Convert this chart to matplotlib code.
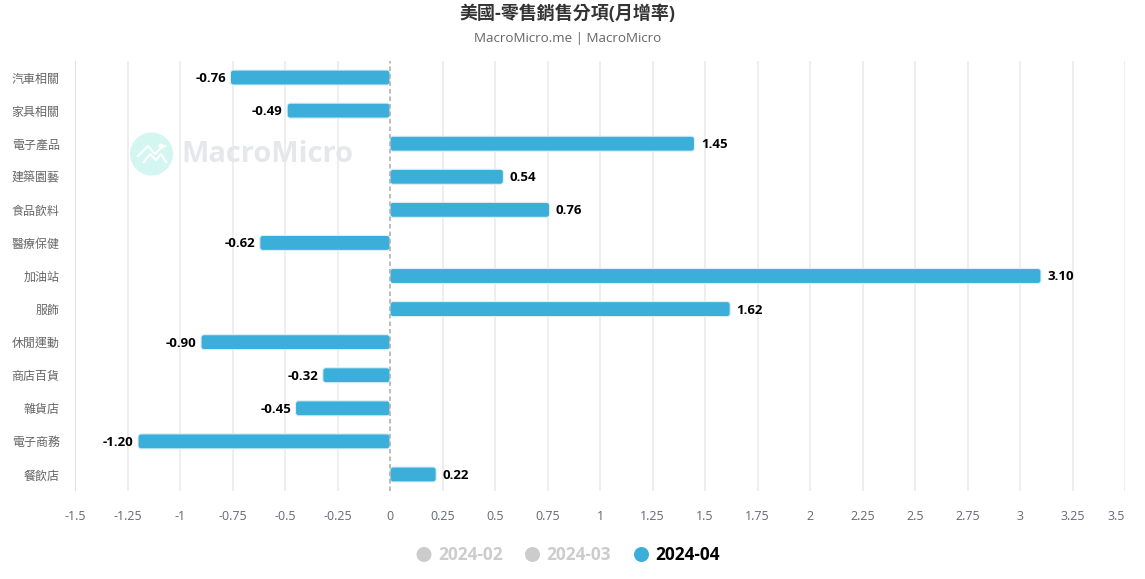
# -*- coding: utf-8 -*-
# MacroMicro retail sales by category, monthly change
import matplotlib
matplotlib.use('Agg')
import matplotlib.pyplot as plt
from matplotlib.patches import Circle, FancyBboxPatch
from matplotlib.lines import Line2D

plt.rcParams['font.family'] = ['Open Sans', 'Noto Sans CJK TC', 'DejaVu Sans']

categories = ['汽車相關', '家具相關', '電子產品', '建築園藝', '食品飲料', '醫療保健', '加油站',
              '服飾', '休閒運動', '商店百貨', '雜貨店', '電子商務', '餐飲店']
values = [-0.76, -0.49, 1.45, 0.54, 0.76, -0.62, 3.10, 1.62, -0.90, -0.32, -0.45, -1.20, 0.22]
x_ticks = [-1.5, -1.25, -1, -0.75, -0.5, -0.25, 0, 0.25, 0.5, 0.75, 1, 1.25, 1.5, 1.75,
           2, 2.25, 2.5, 2.75, 3, 3.25, 3.5]
x_tick_labels = ['-1.5', '-1.25', '-1', '-0.75', '-0.5', '-0.25', '0', '0.25', '0.5', '0.75', '1',
                 '1.25', '1.5', '1.75', '2', '2.25', '2.5', '2.75', '3', '3.25', '3.5']
legend_names = ['2024-02', '2024-03', '2024-04']

W, H = 1145, 579
BLUE = '#3bafda'
px = 0.72  # css px to points at dpi 100

fig = plt.figure(figsize=(W / 100, H / 100), dpi=100)
ax = fig.add_axes([75 / W, 1 - 491 / H, 1050 / W, 430 / H])
ax.set_xlim(-1.5, 3.5)
ax.set_ylim(12.5, -0.5)

for s in ax.spines.values():
    s.set_visible(False)

# grid
for t in x_ticks:
    if t == 0:
        continue
    ax.axvline(t, color='#d6d6d6' if t == -1.5 else '#e9e9e9', lw=1.5 * px, zorder=1)

# rounded bars, corner radius about 3 px
unit_x = 210.0
unit_y = 430 / 13
radius = 3 / unit_x
bar_h = 15 / unit_y
for i, v in enumerate(values):
    bar = FancyBboxPatch((min(v, 0), i - bar_h / 2), abs(v), bar_h,
                         boxstyle='round,pad=0,rounding_size=%f' % radius,
                         mutation_aspect=unit_x / unit_y,
                         fc=BLUE, ec='#dff0f7', lw=0.8, zorder=3)
    ax.add_patch(bar)
    if v < 0:
        ax.annotate('%.2f' % v, (v, i), xytext=(-3.2, -0.7), textcoords='offset points', ha='right',
                    va='center', fontsize=13.3 * px, fontweight='bold', color='black', zorder=5)
    else:
        ax.annotate('%.2f' % v, (v, i), xytext=(4.6, -0.7), textcoords='offset points', ha='left',
                    va='center', fontsize=13.3 * px, fontweight='bold', color='black', zorder=5)

ax.axvline(0, color='#a8a8a8', lw=1.5 * px, ls=(0, (3, 2)), zorder=4)

ax.set_xticks(x_ticks)
ax.set_xticklabels(x_tick_labels, fontsize=12.5 * px, color='#666677')
ax.set_yticks(range(len(categories)))
ax.set_yticklabels(categories, fontsize=12 * px, color='#666666')
ax.tick_params(axis='x', length=0, pad=13.5)
ax.tick_params(axis='y', length=0, pad=11)
ax.get_xticklabels()[-1].set_ha('right')

fig.text(567.5 / W, 1 - 14 / H, '美國-零售銷售分項(月增率)', ha='center', va='center',
         fontsize=18 * px, fontweight='bold', color='#333333')
fig.text(567.5 / W, 1 - 38.5 / H, 'MacroMicro.me | MacroMicro', ha='center', va='center',
         fontsize=13.4 * px, color='#666666')

# watermark logo
trans = None
fig.add_artist(Circle((151.5, H - 154), 21.5, transform=trans, fc='#d3f6f0', ec='none', zorder=0))
fig.add_artist(Line2D([138, 148, 155, 160, 165], [H - 156, H - 146, H - 154, H - 149, H - 146],
                      transform=trans, color='white', lw=1.6, zorder=0))
fig.add_artist(Line2D([144, 150, 156, 161, 166], [H - 162, H - 154, H - 160, H - 154, H - 162],
                      transform=trans, color='white', lw=1.6, zorder=0))
fig.add_artist(Circle((161, H - 146), 2.5, transform=trans, fc='white', ec='none', zorder=0))
fig.text(181 / W, 1 - 155 / H, 'MacroMicro', ha='left', va='center', fontsize=29 * px,
         fontweight='bold', color='#e5e7ea', zorder=0)

# legend
legend_colors = ['#cccccc', '#cccccc', BLUE]
legend_text = ['#cccccc', '#cccccc', '#000000']
legend_x = [424, 532.5, 641.5]
for name, c, tc, lx in zip(legend_names, legend_colors, legend_text, legend_x):
    fig.add_artist(Circle((lx, H - 554.5), 7.5, transform=trans, fc=c, ec='none'))
    fig.text((lx + 14) / W, 1 - 554.5 / H, name, ha='left', va='center', fontsize=17.2 * px,
             fontweight='bold', color=tc)

ax.patch.set_alpha(0)
fig.savefig('out.png', dpi=100)
